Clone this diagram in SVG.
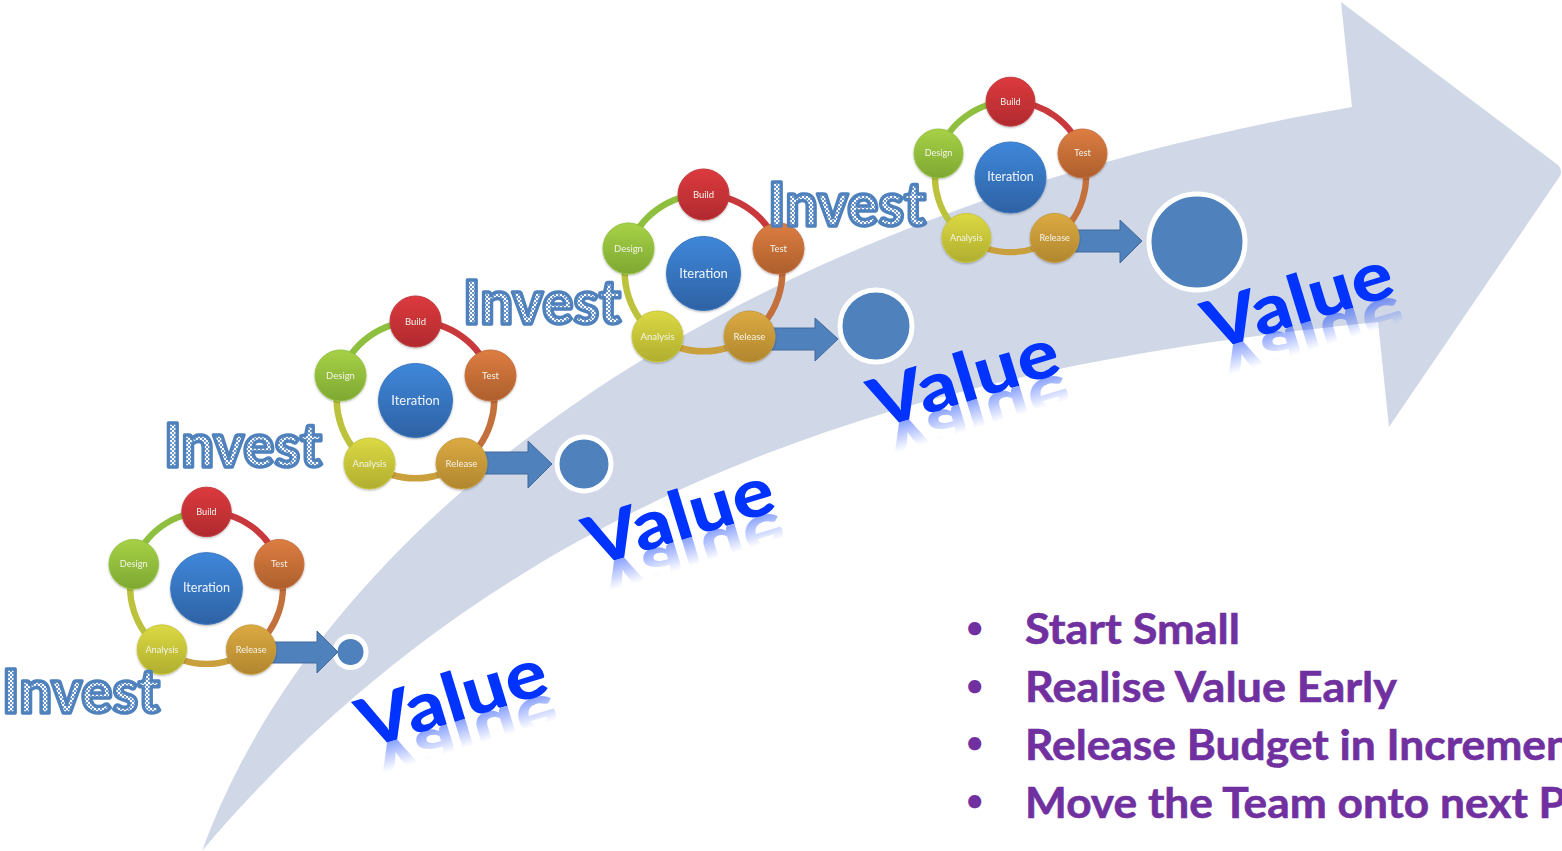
<svg xmlns="http://www.w3.org/2000/svg" width="1562" height="851" viewBox="0 0 1562 851">
<style>
text{font-family:Lato,"Open Sans","Liberation Sans",sans-serif}
.lbl{fill:#f4f4ea;font-size:9.5px;text-anchor:middle}
.lbl2{fill:#eef4fb;font-size:13px;text-anchor:middle}
.inv{font-size:60px;font-weight:900;fill:url(#chk);stroke:#4f81bd;stroke-width:3.5px;stroke-linejoin:round;stroke-linecap:round}
.val{font-size:68px;font-weight:900;fill:#0033ff}
.li{font-size:42px;font-weight:700;fill:#7030a0;stroke:#7030a0;stroke-width:.6px}
.bl{font-size:30px;font-weight:700;fill:#7030a0}
.blk{fill:#4f81bd;stroke:#41699a;stroke-width:1}
.dot{fill:#4f81bd;stroke:#fff;stroke-width:5}
.arc{fill:none;stroke-width:6.5;stroke-linecap:butt}
.n{filter:url(#sh)}
.nb{fill:url(#gB);stroke:#c23a3e}.nt{fill:url(#gT);stroke:#c76f3e}.nr{fill:url(#gR);stroke:#c79c3e}.na{fill:url(#gA);stroke:#c9c63e}.nd{fill:url(#gD);stroke:#93c23e}.ni{fill:url(#gI);stroke:#3a76c0}
</style>
<defs>
<pattern id="chk" width="4" height="4" patternUnits="userSpaceOnUse"><rect width="4" height="4" fill="#fff"/><rect width="2" height="2" fill="#6f98c8"/><rect x="2" y="2" width="2" height="2" fill="#6f98c8"/></pattern>
<linearGradient id="gB" x1="0" y1="0" x2="0" y2="1"><stop offset="0" stop-color="#dc3a3e"/><stop offset="1" stop-color="#b02a2e"/></linearGradient>
<linearGradient id="gT" x1="0" y1="0" x2="0" y2="1"><stop offset="0" stop-color="#dd7d42"/><stop offset="1" stop-color="#ad5f2c"/></linearGradient>
<linearGradient id="gR" x1="0" y1="0" x2="0" y2="1"><stop offset="0" stop-color="#dcaa42"/><stop offset="1" stop-color="#b0862e"/></linearGradient>
<linearGradient id="gA" x1="0" y1="0" x2="0" y2="1"><stop offset="0" stop-color="#dcd944"/><stop offset="1" stop-color="#b0ae2e"/></linearGradient>
<linearGradient id="gD" x1="0" y1="0" x2="0" y2="1"><stop offset="0" stop-color="#a6d146"/><stop offset="1" stop-color="#7ea832"/></linearGradient>
<linearGradient id="gI" x1="0" y1="0" x2="0" y2="1"><stop offset="0" stop-color="#3f87da"/><stop offset="1" stop-color="#2e62a4"/></linearGradient>
<linearGradient id="fd" x1="0" y1="0" x2="0" y2="1"><stop offset="0" stop-color="#fff" stop-opacity=".45"/><stop offset="1" stop-color="#fff" stop-opacity="0"/></linearGradient>
<mask id="fade" maskUnits="userSpaceOnUse" x="-60" y="0" width="320" height="28"><rect x="-60" y="0" width="320" height="28" fill="url(#fd)"/></mask>
<filter id="sh" x="-20%" y="-20%" width="140%" height="140%"><feDropShadow dx="0" dy="1" stdDeviation="1" flood-color="#000" flood-opacity=".3"/></filter>
</defs>
<rect width="1562" height="851" fill="#fff"/>
<path id="big-arrow" d="M202,851 C320,525 720,215 1352,107 L1341,2 L1558,165 Q1563,170 1560,176 L1389,427 L1378,322 C1000,360 540,450 202,851 Z" fill="#d0d8e8"/>
<g id="value-dots">
<circle id="dot1" class="dot" cx="350.5" cy="652" r="15.5"/>
<circle id="dot2" class="dot" cx="584" cy="464" r="27"/>
<circle id="dot3" class="dot" cx="876" cy="326" r="36"/>
<circle id="dot4" class="dot" cx="1197" cy="242" r="48"/>
</g>
<g id="connectors">
<path class="blk" d="M270,642 H317 V631 L338,652 L317,673 V663 H270 Z"/>
<path class="blk" d="M482,452 H528 V441 L552,464 L528,488 V474 H482 Z"/>
<path class="blk" d="M768,328 H815 V318 L838,339 L815,361 V350 H768 Z"/>
<path class="blk" d="M1075,230 H1120 V220 L1142,241 L1120,263 V252 H1075 Z"/>
</g>
<g id="cycle1" transform="translate(206.5,588.5) scale(.97)">
<path class="arc" stroke="#c8383c" d="M0,-79 A79,79 0 0 1 75,-25"/><path class="arc" stroke="#c4703c" d="M75,-25 A79,79 0 0 1 46,63"/><path class="arc" stroke="#c9a03c" d="M46,63 A79,79 0 0 1 -46,63"/><path class="arc" stroke="#bcc23c" d="M-46,63 A79,79 0 0 1 -75,-25"/><path class="arc" stroke="#8fbf3e" d="M-75,-25 A79,79 0 0 1 0,-79"/>
<g id="c1-iteration" class="n"><circle class="ni" r="37"/><text class="lbl2" y="4">Iteration</text></g>
<g id="c1-build" class="n" transform="translate(0,-79)"><circle class="nb" r="25.5"/><text class="lbl" y="3">Build</text></g>
<g id="c1-test" class="n" transform="translate(75,-25)"><circle class="nt" r="25.5"/><text class="lbl" y="3">Test</text></g>
<g id="c1-release" class="n" transform="translate(46,63)"><circle class="nr" r="25.5"/><text class="lbl" y="3">Release</text></g>
<g id="c1-analysis" class="n" transform="translate(-46,63)"><circle class="na" r="25.5"/><text class="lbl" y="3">Analysis</text></g>
<g id="c1-design" class="n" transform="translate(-75,-25)"><circle class="nd" r="25.5"/><text class="lbl" y="3">Design</text></g>
</g>
<g id="cycle2" transform="translate(415.5,400.5)">
<path class="arc" stroke="#c8383c" d="M0,-79 A79,79 0 0 1 75,-25"/><path class="arc" stroke="#c4703c" d="M75,-25 A79,79 0 0 1 46,63"/><path class="arc" stroke="#c9a03c" d="M46,63 A79,79 0 0 1 -46,63"/><path class="arc" stroke="#bcc23c" d="M-46,63 A79,79 0 0 1 -75,-25"/><path class="arc" stroke="#8fbf3e" d="M-75,-25 A79,79 0 0 1 0,-79"/>
<g id="c2-iteration" class="n"><circle class="ni" r="37"/><text class="lbl2" y="4">Iteration</text></g>
<g id="c2-build" class="n" transform="translate(0,-79)"><circle class="nb" r="25.5"/><text class="lbl" y="3">Build</text></g>
<g id="c2-test" class="n" transform="translate(75,-25)"><circle class="nt" r="25.5"/><text class="lbl" y="3">Test</text></g>
<g id="c2-release" class="n" transform="translate(46,63)"><circle class="nr" r="25.5"/><text class="lbl" y="3">Release</text></g>
<g id="c2-analysis" class="n" transform="translate(-46,63)"><circle class="na" r="25.5"/><text class="lbl" y="3">Analysis</text></g>
<g id="c2-design" class="n" transform="translate(-75,-25)"><circle class="nd" r="25.5"/><text class="lbl" y="3">Design</text></g>
</g>
<g id="cycle3" transform="translate(703.5,273.5)">
<path class="arc" stroke="#c8383c" d="M0,-79 A79,79 0 0 1 75,-25"/><path class="arc" stroke="#c4703c" d="M75,-25 A79,79 0 0 1 46,63"/><path class="arc" stroke="#c9a03c" d="M46,63 A79,79 0 0 1 -46,63"/><path class="arc" stroke="#bcc23c" d="M-46,63 A79,79 0 0 1 -75,-25"/><path class="arc" stroke="#8fbf3e" d="M-75,-25 A79,79 0 0 1 0,-79"/>
<g id="c3-iteration" class="n"><circle class="ni" r="37"/><text class="lbl2" y="4">Iteration</text></g>
<g id="c3-build" class="n" transform="translate(0,-79)"><circle class="nb" r="25.5"/><text class="lbl" y="3">Build</text></g>
<g id="c3-test" class="n" transform="translate(75,-25)"><circle class="nt" r="25.5"/><text class="lbl" y="3">Test</text></g>
<g id="c3-release" class="n" transform="translate(46,63)"><circle class="nr" r="25.5"/><text class="lbl" y="3">Release</text></g>
<g id="c3-analysis" class="n" transform="translate(-46,63)"><circle class="na" r="25.5"/><text class="lbl" y="3">Analysis</text></g>
<g id="c3-design" class="n" transform="translate(-75,-25)"><circle class="nd" r="25.5"/><text class="lbl" y="3">Design</text></g>
</g>
<g id="cycle4" transform="translate(1010.5,177.5) scale(.96)">
<path class="arc" stroke="#c8383c" d="M0,-79 A79,79 0 0 1 75,-25"/><path class="arc" stroke="#c4703c" d="M75,-25 A79,79 0 0 1 46,63"/><path class="arc" stroke="#c9a03c" d="M46,63 A79,79 0 0 1 -46,63"/><path class="arc" stroke="#bcc23c" d="M-46,63 A79,79 0 0 1 -75,-25"/><path class="arc" stroke="#8fbf3e" d="M-75,-25 A79,79 0 0 1 0,-79"/>
<g id="c4-iteration" class="n"><circle class="ni" r="37"/><text class="lbl2" y="4">Iteration</text></g>
<g id="c4-build" class="n" transform="translate(0,-79)"><circle class="nb" r="25.5"/><text class="lbl" y="3">Build</text></g>
<g id="c4-test" class="n" transform="translate(75,-25)"><circle class="nt" r="25.5"/><text class="lbl" y="3">Test</text></g>
<g id="c4-release" class="n" transform="translate(46,63)"><circle class="nr" r="25.5"/><text class="lbl" y="3">Release</text></g>
<g id="c4-analysis" class="n" transform="translate(-46,63)"><circle class="na" r="25.5"/><text class="lbl" y="3">Analysis</text></g>
<g id="c4-design" class="n" transform="translate(-75,-25)"><circle class="nd" r="25.5"/><text class="lbl" y="3">Design</text></g>
</g>
<g id="invest1"><text class="inv" x="2" y="713" textLength="158" lengthAdjust="spacingAndGlyphs">Invest</text></g>
<g id="invest2"><text class="inv" x="164" y="467" textLength="158" lengthAdjust="spacingAndGlyphs">Invest</text></g>
<g id="invest3"><text class="inv" x="463" y="324" textLength="158" lengthAdjust="spacingAndGlyphs">Invest</text></g>
<g id="invest4"><text class="inv" x="768" y="226" textLength="158" lengthAdjust="spacingAndGlyphs">Invest</text></g>
<g id="value1" transform="translate(366,749) rotate(-17)"><text class="val" textLength="194" lengthAdjust="spacingAndGlyphs">Value</text><g mask="url(#fade)"><text class="val" transform="scale(1,-1)" textLength="194" lengthAdjust="spacingAndGlyphs">Value</text></g></g>
<g id="value2" transform="translate(593,567) rotate(-17)"><text class="val" textLength="194" lengthAdjust="spacingAndGlyphs">Value</text><g mask="url(#fade)"><text class="val" transform="scale(1,-1)" textLength="194" lengthAdjust="spacingAndGlyphs">Value</text></g></g>
<g id="value3" transform="translate(878,429) rotate(-17)"><text class="val" textLength="194" lengthAdjust="spacingAndGlyphs">Value</text><g mask="url(#fade)"><text class="val" transform="scale(1,-1)" textLength="194" lengthAdjust="spacingAndGlyphs">Value</text></g></g>
<g id="value4" transform="translate(1212,351) rotate(-17)"><text class="val" textLength="194" lengthAdjust="spacingAndGlyphs">Value</text><g mask="url(#fade)"><text class="val" transform="scale(1,-1)" textLength="194" lengthAdjust="spacingAndGlyphs">Value</text></g></g>
<g id="bullets">
<text class="bl" x="966" y="638">•</text><text class="li" x="1025" y="644" textLength="215" lengthAdjust="spacingAndGlyphs">Start Small</text>
<text class="bl" x="966" y="696">•</text><text class="li" x="1025" y="702" textLength="372" lengthAdjust="spacingAndGlyphs">Realise Value Early</text>
<text class="bl" x="966" y="753">•</text><text class="li" x="1025" y="760" textLength="546" lengthAdjust="spacingAndGlyphs">Release Budget in Incremen</text>
<text class="bl" x="966" y="811">•</text><text class="li" x="1025" y="818" textLength="541" lengthAdjust="spacingAndGlyphs">Move the Team onto next P</text>
</g>
</svg>
